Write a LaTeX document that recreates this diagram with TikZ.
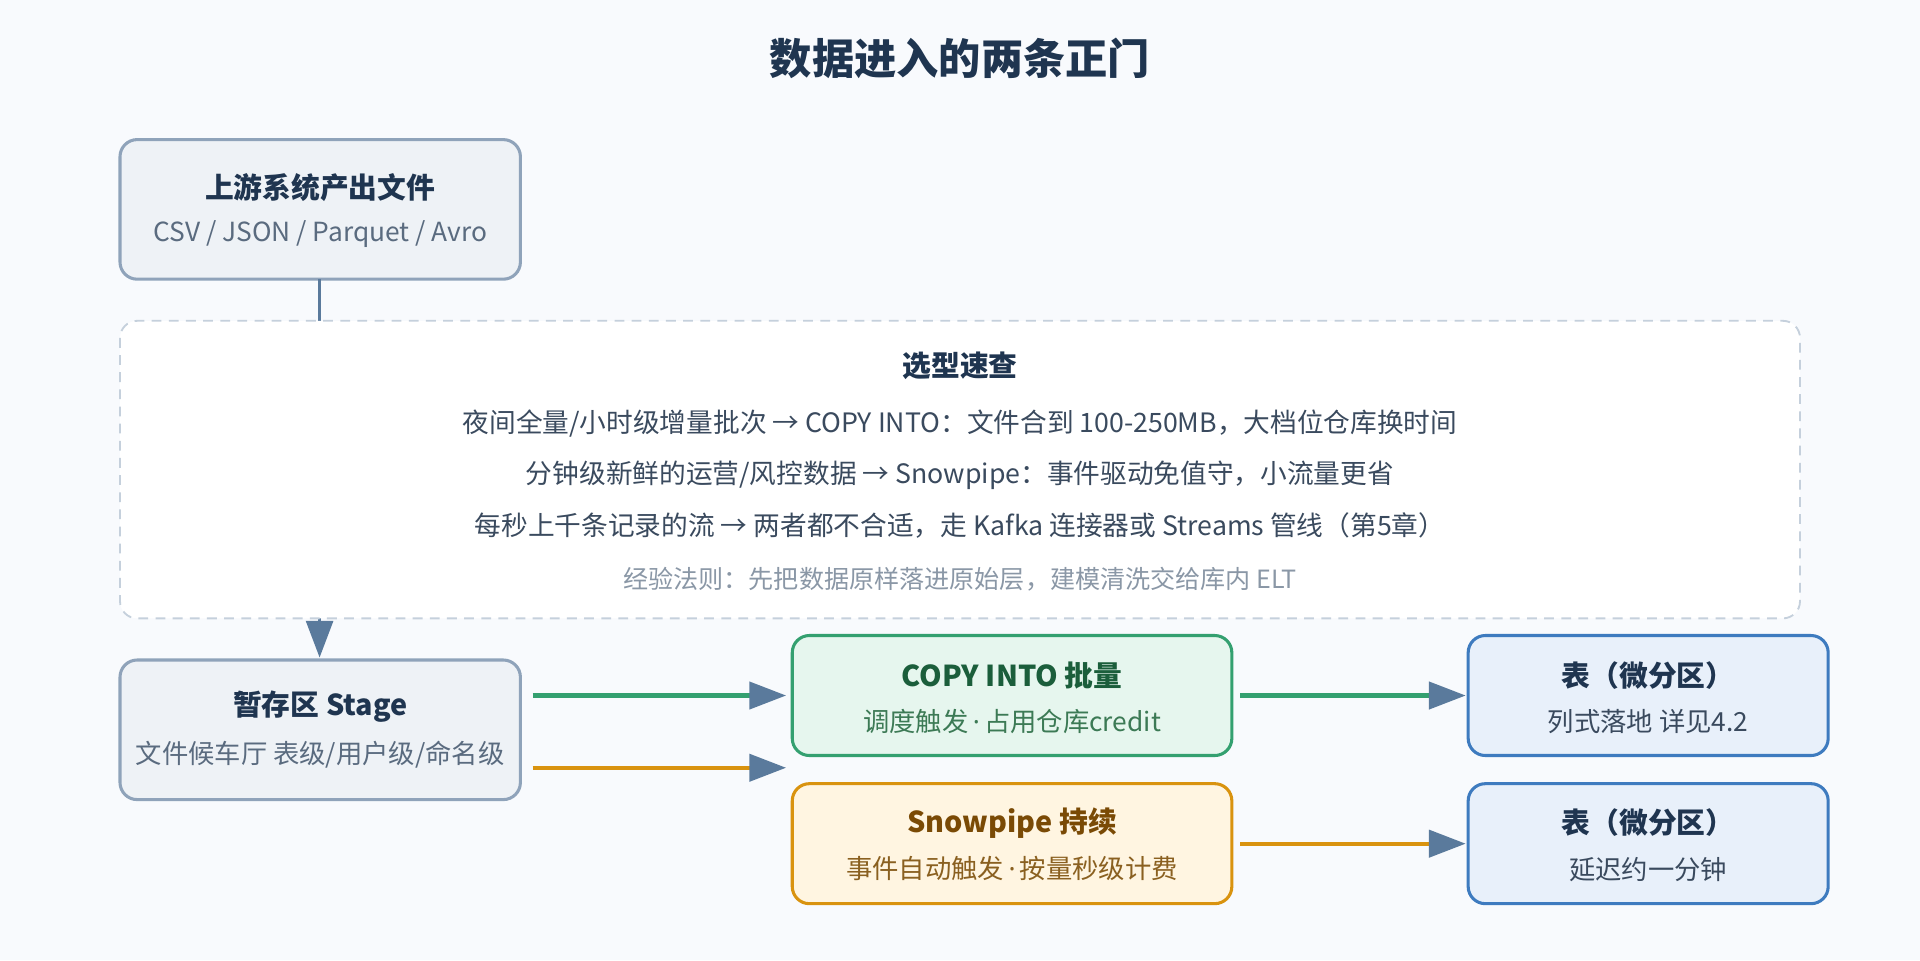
\documentclass[tikz,border=0pt]{standalone}
\usepackage{fontspec}
\setmainfont{Noto Sans CJK SC}
\newfontfamily\latinf{Noto Sans}
\usetikzlibrary{arrows.meta}
\definecolor{bgc}{HTML}{F8FAFD}
\definecolor{navy}{HTML}{1F3550}
\definecolor{slatef}{HTML}{EEF2F6}
\definecolor{slated}{HTML}{8FA3BA}
\definecolor{slatet}{HTML}{5A6B7F}
\definecolor{arrowc}{HTML}{5A7A9C}
\definecolor{dashc}{HTML}{C5D0DC}
\definecolor{greenf}{HTML}{E6F6EE}
\definecolor{greend}{HTML}{34A070}
\definecolor{greent}{HTML}{1B5E3B}
\definecolor{greens}{HTML}{3C7A55}
\definecolor{orf}{HTML}{FFF5E1}
\definecolor{ord}{HTML}{D9930F}
\definecolor{ort}{HTML}{7A4A05}
\definecolor{ors}{HTML}{8A6020}
\definecolor{bluef}{HTML}{E8F0FA}
\definecolor{blued}{HTML}{3E7BBF}
\definecolor{bodyt}{HTML}{3A4A5E}
\definecolor{grayt}{HTML}{8A97A6}
\newcommand\mdot{{\latinf\,·\,}}
\tikzset{
 box/.style={draw, line width=2.5pt, rounded corners=14pt},
 ttl/.style={font=\fontsize{23.5}{26}\selectfont\bfseries, anchor=center},
 sub/.style={font=\fontsize{21.5}{24}\selectfont, anchor=center},
 body/.style={font=\fontsize{21.8}{24}\selectfont, text=bodyt, anchor=center},
 arr/.style={line width=3.5pt, -{Triangle[length=30pt,width=22pt,color=arrowc]}},
}
\begin{document}
\begin{tikzpicture}[x=1pt,y=-1pt]
\fill[bgc] (0,0) rectangle (1568,784);
\useasboundingbox (0,0) rectangle (1568,784);
\node[font=\fontsize{34.5}{38}\selectfont\bfseries, text=navy] (title) at (784,48) {数据进入的两条正门};
% source box
\draw[box, draw=slated, fill=slatef] (98,114) rectangle (425,228);
\node[ttl, text=navy] (srct) at (261.5,153) {上游系统产出文件};
\node[sub, text=slatet] (srcs) at (261.5,191) {CSV / JSON / Parquet / Avro};
\coordinate (srcb) at (261,228);
% stage box
\draw[box, draw=slated, fill=slatef] (98,539) rectangle (425,653);
\node[ttl, text=navy] (stt) at (261.5,577) {暂存区 Stage};
\node[sub, text=slatet] (sts) at (261.5,616) {文件候车厅 表级/用户级/命名级};
\coordinate (stgt) at (261,537);
\draw[arr, draw=arrowc, line width=2.5pt] (srcb) -- (stgt);
% dashed box
\draw[dashed, dash pattern=on 8pt off 6pt, draw=dashc, line width=1.5pt, fill=white, rounded corners=14pt] (98,262) rectangle (1470,505);
\node[font=\fontsize{23.5}{26}\selectfont\bfseries, text=navy] (qt) at (784,299) {选型速查};
\node[body] (l1) at (784,346) {夜间全量/小时级增量批次 → COPY INTO：文件合到 100-250MB，大档位仓库换时间};
\node[body] (l2) at (784,388) {分钟级新鲜的运营/风控数据 → Snowpipe：事件驱动免值守，小流量更省};
\node[body] (l3) at (784,429) {每秒上千条记录的流 → 两者都不合适，走 Kafka 连接器或 Streams 管线（第5章）};
\node[body, text=grayt, font=\fontsize{20.5}{23}\selectfont] (l4) at (784,473) {经验法则：先把数据原样落进原始层，建模清洗交给库内 ELT};
% copy box
\draw[box, draw=greend, fill=greenf] (647,519) rectangle (1006,617);
\node[ttl, text=greent] (cpt) at (826.5,552) {COPY INTO 批量};
\node[sub, text=greens] (cps) at (826.5,589) {调度触发\mdot 占用仓库credit};
% snowpipe box
\draw[box, draw=ord, fill=orf] (647,640) rectangle (1006,738);
\node[ttl, text=ort] (spt) at (826.5,672) {Snowpipe 持续};
\node[sub, text=ors] (sps) at (826.5,709) {事件自动触发\mdot 按量秒级计费};
% table boxes
\draw[box, draw=blued, fill=bluef] (1199,519) rectangle (1493,617);
\node[ttl, text=navy] (t1t) at (1346,552) {表（微分区）};
\node[sub, text=bodyt] (t1s) at (1346,589) {列式落地 详见4.2};
\draw[box, draw=blued, fill=bluef] (1199,640) rectangle (1493,738);
\node[ttl, text=navy] (t2t) at (1346,672) {表（微分区）};
\node[sub, text=bodyt] (t2s) at (1346,710) {延迟约一分钟};
% arrows
\coordinate (a1s) at (435,568); \coordinate (a1e) at (642,568);
\coordinate (a2s) at (435,627); \coordinate (a2e) at (642,627);
\coordinate (a3s) at (1013,568); \coordinate (a3e) at (1197,568);
\coordinate (a4s) at (1013,689); \coordinate (a4e) at (1197,689);
\draw[arr, draw=greend] (a1s) -- (a1e);
\draw[arr, draw=ord] (a2s) -- (a2e);
\draw[arr, draw=greend] (a3s) -- (a3e);
\draw[arr, draw=ord] (a4s) -- (a4e);
\end{tikzpicture}
\end{document}
